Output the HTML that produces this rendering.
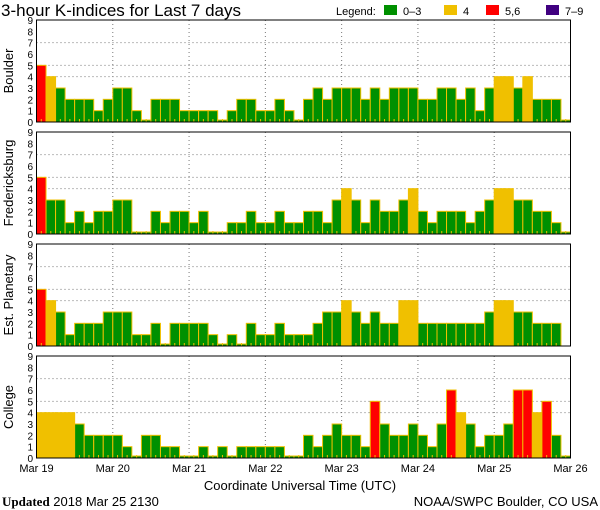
<!DOCTYPE html>
<html><head><meta charset="utf-8"><style>
html,body{margin:0;padding:0;background:#fff;}
svg{display:block;font-family:"Liberation Sans",sans-serif;}
</style></head><body>
<svg id="chart" width="600" height="510" viewBox="0 0 600 510">
<text x="1" y="16" font-size="17">3-hour K-indices for Last 7 days</text>
<g font-size="11">
<text x="336" y="15">Legend:</text>
<rect x="384" y="5" width="13" height="10" fill="#009000"/>
<text x="403" y="15">0–3</text>
<rect x="444" y="5" width="13" height="10" fill="#f0c000"/>
<text x="463" y="15">4</text>
<rect x="486" y="5" width="13" height="10" fill="#ff0000"/>
<text x="505" y="15">5,6</text>
<rect x="546" y="5" width="13" height="10" fill="#400080"/>
<text x="565" y="15">7–9</text>
</g>
<g id="panels"></g>
<g id="xlabels" font-size="11"></g>
<text x="300" y="490" font-size="13" text-anchor="middle">Coordinate Universal Time (UTC)</text>
<text x="2" y="506" font-size="13"><tspan font-family="Liberation Serif,serif" font-weight="bold">Updated</tspan> 2018 Mar 25 2130</text>
<text x="598" y="506" font-size="13" text-anchor="end">NOAA/SWPC Boulder, CO USA</text>
</svg>
<script>
const stations = ["Boulder","Fredericksburg","Est. Planetary","College"];
const dayLabels = ["Mar 19","Mar 20","Mar 21","Mar 22","Mar 23","Mar 24","Mar 25","Mar 26"];
const yTicks = [0,1,2,3,4,5,6,7,8,9];
const boulder = [5,4,3,2,2,2,1,2, 3,3,1,0,2,2,2,1, 1,1,1,0,1,2,2,1, 1,2,1,0,2,3,2,3, 3,3,2,3,2,3,3,3, 2,2,3,3,2,3,1,3, 4,4,3,4,2,2,2,0];
const fredericksburg = [5,3,3,1,2,1,2,2, 3,3,0,0,2,1,2,2, 1,2,0,0,1,1,2,1, 1,2,1,1,2,2,1,3, 4,3,1,3,2,2,3,4, 2,1,2,2,2,1,2,3, 4,4,3,3,2,2,1,0];
const planetary = [5,4,3,1,2,2,2,3, 3,3,1,1,2,0,2,2, 2,2,1,0,1,0,2,1, 1,2,1,1,1,2,3,3, 4,3,2,3,2,2,4,4, 2,2,2,2,2,2,2,3, 4,4,3,3,2,2,2,null];
const college = [4,4,4,4,3,2,2,2, 2,1,0,2,2,1,1,0, 0,1,0,1,0,1,1,1, 1,1,0,0,2,1,2,3, 2,2,1,5,3,2,2,3, 2,1,3,6,4,3,1,2, 2,3,6,6,4,5,2,0];
const series = [boulder, fredericksburg, planetary, college];

const NS="http://www.w3.org/2000/svg";
const X0=36.5, X1=570.5, N=56;
const panelTops=[20,132,244,356], PH=102;
const xs = i => X0 + i*(X1-X0)/N;
const color = v => v<=3?"#009000":v==4?"#f0c000":v<=6?"#ff0000":"#400080";
function mk(tag, attrs, parent){const e=document.createElementNS(NS,tag);for(const k in attrs)e.setAttribute(k,attrs[k]);parent.appendChild(e);return e;}
const panels=document.getElementById('panels');
series.forEach((vals,p)=>{
  const top=panelTops[p], bot=top+PH;
  const ys = v => bot - v*PH/9;
  const g=mk('g',{},panels);
  
  
  [4,5,7].forEach(v=>{const l=mk('line',{x1:X0,x2:X1,y1:ys(v),y2:ys(v),stroke:'#777','stroke-dasharray':'1,3'},g);
    
    });
  for(let d=1;d<7;d++){const x=xs(d*8);const l=mk('line',{x1:x,x2:x,y1:top,y2:bot,stroke:'#777','stroke-dasharray':'1,3'},g);
    
    }
  const w=(X1-X0)/N;
  vals.forEach((v,i)=>{
    if(v===null) return;
    const h=v===0?2:v*PH/9;
    const r=mk('rect',{x:xs(i),y:bot-h,width:w,height:h,fill:color(v),stroke:'#f0c000','stroke-width':1},g);
    
    
    const t=mk('line',{x1:xs(i)+w/2,x2:xs(i)+w/2,y1:bot,y2:bot-3,stroke:'#f0c000'},g);
    
    
  });
  const fr=mk('rect',{x:X0,y:top,width:X1-X0,height:PH,fill:'none',stroke:'#000','stroke-width':1},g);
  
  
  yTicks.forEach(v=>{const t=mk('text',{x:33,y:ys(v)+4,'font-size':10,'text-anchor':'end'},g);t.textContent=v;
    
    });
  const cy=top+PH/2;
  const lab=mk('text',{x:13,y:cy,'font-size':13,'text-anchor':'middle',transform:`rotate(-90 13 ${cy})`},g);
  lab.textContent=stations[p];
  
  
});
const xl=document.getElementById('xlabels');
dayLabels.forEach((d,i)=>{const t=mk('text',{x:xs(i*8),y:472,'text-anchor':'middle'},xl);t.textContent=d;
  
  });
</script>
</body></html>
